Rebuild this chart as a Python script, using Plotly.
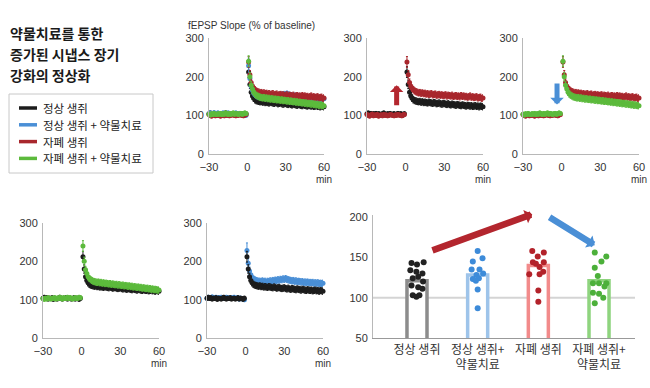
import plotly.graph_objects as go

W, H = 650, 388

# ---------------- data ----------------
minutes_pre = list(range(-30, 0))
minutes_post = list(range(1, 61))

black_pre = [104, 106, 103, 105, 102, 104, 103, 105, 101, 104, 103, 102, 104, 106, 103,
             102, 104, 103, 105, 102, 103, 104, 102, 103, 105, 102, 104, 103, 101, 104]
black_post = [212, 180, 160, 150, 144, 140, 138, 137, 136, 135, 136, 134, 135, 133, 134,
              133, 132, 134, 133, 132, 131, 133, 132, 130, 131, 132, 130, 129, 130, 131,
              129, 128, 130, 128, 127, 129, 128, 127, 126, 128, 127, 126, 125, 127, 126,
              125, 124, 126, 125, 124, 125, 123, 124, 125, 123, 124, 122, 124, 123, 122]

blue_pre = [104, 106, 105, 103, 107, 104, 105, 106, 103, 105, 104, 106, 105, 103, 104,
            106, 105, 104, 103, 105, 104, 106, 103, 104, 105, 102, 104, 103, 101, 100]
blue_post = [228, 195, 175, 165, 158, 154, 152, 150, 149, 148, 148, 147, 149, 147, 148,
             146, 148, 147, 149, 148, 150, 149, 151, 150, 152, 151, 153, 152, 154, 153,
             155, 153, 152, 151, 150, 149, 150, 148, 149, 147, 148, 147, 146, 147, 145,
             146, 145, 146, 144, 145, 144, 145, 143, 144, 143, 144, 142, 143, 142, 143]

red_pre = [102, 100, 98, 101, 103, 99, 101, 100, 102, 98, 100, 101, 99, 102, 100,
           101, 99, 100, 102, 101, 100, 99, 101, 100, 102, 101, 100, 99, 101, 102]
red_post = [238, 205, 185, 175, 170, 166, 163, 161, 160, 158, 159, 157, 158, 156, 157,
            155, 156, 154, 155, 156, 153, 154, 155, 152, 153, 154, 152, 153, 151, 152,
            153, 150, 152, 151, 150, 152, 149, 150, 151, 149, 150, 148, 151, 149, 150,
            148, 149, 147, 148, 150, 147, 148, 146, 147, 148, 145, 146, 147, 144, 145]

green_pre = [103, 101, 104, 102, 105, 103, 102, 104, 103, 105, 102, 104, 103, 106, 104,
             102, 105, 103, 104, 106, 103, 105, 104, 102, 104, 105, 103, 104, 106, 105]
green_post = [240, 200, 178, 168, 160, 155, 152, 150, 148, 147, 146, 145, 146, 144, 145,
              143, 144, 142, 143, 142, 141, 142, 140, 141, 140, 139, 140, 138, 139, 138,
              137, 138, 136, 137, 136, 135, 136, 134, 135, 133, 134, 133, 132, 133, 131,
              132, 130, 131, 130, 129, 130, 128, 129, 127, 128, 126, 127, 126, 125, 125]

err_pre = [5] * 30
err_post = [14, 11, 9, 8] + [8] * 56
err_post_blue = [20, 13, 10, 9] + [8] * 56

categories = ["정상 생쥐", "정상 생쥐+<br>약물치료", "자폐 생쥐", "자폐 생쥐+<br>약물치료"]
bar_means = [121, 128, 140, 121]

black_dots = [143, 141, 144, 134, 132, 130, 126, 124, 120, 115, 113, 111, 103, 101, 103]
black_dx = [-0.09, 0.0, 0.11, -0.11, -0.01, 0.09, 0.02, -0.07, 0.10, -0.09, 0.02, 0.09, -0.07, -0.01, 0.04]
blue_dots = [158, 145, 149, 135, 135, 130, 128, 123, 124, 121, 110, 87]
blue_dx = [0.0, -0.08, 0.08, -0.10, 0.03, 0.09, -0.02, -0.08, 0.02, -0.03, 0.0, 0.0]
red_dots = [202, 158, 156, 151, 144, 142, 138, 144, 129, 129, 132, 109, 95]
red_dx = [-0.16, -0.10, 0.09, -0.01, -0.09, -0.04, 0.02, 0.09, -0.15, 0.02, 0.08, 0.0, 0.0]
green_dots = [156, 151, 145, 137, 127, 118, 118, 118, 114, 106, 105, 100, 93]
green_dx = [-0.07, 0.12, 0.04, -0.07, -0.02, -0.10, 0.0, 0.12, 0.09, -0.10, 0.0, 0.07, -0.07]

legend_labels = ["정상 생쥐", "정상 생쥐 + 약물치료", "자폐 생쥐", "자폐 생쥐 + 약물치료"]
title_lines = ["약물치료를 통한", "증가된 시냅스 장기", "강화의 정상화"]

# ---------------- styles ----------------
C_BLACK = "#1c1c1c"
C_BLUE = "#4a8fd6"
C_RED = "#a8272d"
C_GREEN = "#5cba3c"
BAR_LINE = ["#8c8c8c", "#9ec4ea", "#f28b8b", "#8fd47f"]
DOT_COL = ["#222222", "#3d8bd9", "#b3222a", "#4cb03a"]
FONT = "Liberation Sans, Arial, sans-serif"
KFONT = "Noto Sans CJK KR, sans-serif"
TXT = "#333333"
TICK = 11

series = {
    "black": (black_pre, black_post, C_BLACK, err_post),
    "blue": (blue_pre, blue_post, C_BLUE, err_post_blue),
    "red": (red_pre, red_post, C_RED, err_post),
    "green": (green_pre, green_post, C_GREEN, err_post),
}


def dx(a, b):
    return [a / W, b / W]


def dy(top, bottom):
    return [1 - bottom / H, 1 - top / H]


# panel pixel boxes: (left, right, top, bottom)
panels = {
    1: (209, 324, 38, 154, ["black", "blue", "red", "green"]),
    2: (367, 483, 38, 154, ["black", "red"]),
    3: (523, 639, 38, 154, ["red", "green"]),
    4: (43, 159, 223, 338, ["black", "green"]),
    5: (207, 323, 223, 338, ["blue", "black"]),
}

fig = go.Figure()
layout = dict(width=W, height=H, margin=dict(l=0, r=0, t=0, b=0, autoexpand=False),
              paper_bgcolor="white", plot_bgcolor="white", showlegend=False,
              font=dict(family=FONT, size=12, color=TXT))
annotations = []
shapes = []

for n, (l, r, t, b, names) in panels.items():
    xa = "x" if n == 1 else f"x{n}"
    ya = "y" if n == 1 else f"y{n}"
    for name in names:
        pre, post, col, ep = series[name]
        fig.add_trace(go.Scatter(
            x=minutes_pre + minutes_post, y=pre + post, mode="markers",
            marker=dict(size=5, color=col),
            error_y=dict(type="data", array=err_pre + ep, thickness=1, width=1, color=col),
            xaxis=xa, yaxis=ya, cliponaxis=False))
    key = "" if n == 1 else str(n)
    layout["xaxis" + key] = dict(domain=dx(l, r), anchor=ya, range=[-30, 60], automargin=False,
                                 tickvals=[-30, 0, 30, 60], showgrid=False, zeroline=False,
                                 showline=True, linecolor="#b8b8b8", linewidth=1,
                                 ticks="", ticklabelstandoff=3, tickfont=dict(size=TICK, color=TXT))
    layout["yaxis" + key] = dict(domain=dy(t, b), anchor=xa, range=[0, 300], automargin=False,
                                 tickvals=[0, 100, 200, 300], showgrid=False, zeroline=False,
                                 showline=True, linecolor="#b8b8b8", linewidth=1,
                                 ticks="", ticklabelstandoff=2, tickfont=dict(size=TICK, color=TXT))
    annotations.append(dict(text="min", xref="paper", yref="paper", x=r / W,
                            y=1 - (b + 25) / H, xanchor="center", yanchor="middle",
                            showarrow=False, font=dict(size=10, color=TXT, family=FONT)))

# ---------------- bar panel ----------------
xs = [0, 1, 2, 3]
fig.add_trace(go.Bar(x=xs, y=bar_means, width=0.33,
                     marker=dict(color="white", line=dict(color=BAR_LINE, width=3.5)),
                     xaxis="x6", yaxis="y6"))
for i, (vals, offs) in enumerate([(black_dots, black_dx), (blue_dots, blue_dx),
                                  (red_dots, red_dx), (green_dots, green_dx)]):
    fig.add_trace(go.Scatter(x=[xs[i] + o for o in offs], y=vals, mode="markers",
                             marker=dict(size=6, color=DOT_COL[i]),
                             xaxis="x6", yaxis="y6", cliponaxis=False))

layout["xaxis6"] = dict(domain=dx(373, 635), anchor="y6", range=[-0.725, 3.593], automargin=False,
                        tickvals=xs, ticktext=categories, showgrid=False, zeroline=False,
                        showline=True, linecolor="#999999", linewidth=1.2, ticks="",
                        ticklabelstandoff=0,
                        tickfont=dict(size=12, color=TXT, family=KFONT))
layout["yaxis6"] = dict(domain=dy(215, 338), anchor="x6", range=[50, 202.5], automargin=False,
                        tickvals=[50, 100, 150, 200], showgrid=False, zeroline=False,
                        showline=True, linecolor="#b8b8b8", linewidth=1, ticks="",
                        ticklabelstandoff=2, tickfont=dict(size=TICK, color=TXT))
shapes.append(dict(type="line", xref="x6 domain", yref="y6", x0=0, x1=1, y0=100, y1=100,
                   line=dict(color="#d4d4d4", width=2), layer="below"))

# arrows in the bar panel
annotations.append(dict(xref="x6", yref="y6", axref="x6", ayref="y6", x=1.90, y=203.5,
                        ax=0.23, ay=158, text="", showarrow=True, arrowhead=1, arrowsize=0.36,
                        arrowwidth=6.5, arrowcolor="#b3262e"))
annotations.append(dict(xref="x6", yref="y6", axref="x6", ayref="y6", x=2.93, y=165,
                        ax=2.16, ay=201, text="", showarrow=True, arrowhead=1, arrowsize=0.36,
                        arrowwidth=6.5, arrowcolor="#4a8fd6"))
# arrows in panels 2 and 3
annotations.append(dict(xref="x2", yref="y2", axref="x2", ayref="y2", x=-7, y=178,
                        ax=-7, ay=122, text="", showarrow=True, arrowhead=1, arrowsize=0.45,
                        arrowwidth=5, arrowcolor="#b3262e"))
annotations.append(dict(xref="x3", yref="y3", axref="x3", ayref="y3", x=-3.6, y=128,
                        ax=-3.6, ay=186, text="", showarrow=True, arrowhead=1, arrowsize=0.45,
                        arrowwidth=5, arrowcolor="#4a8fd6"))

# axis caption
annotations.append(dict(text="fEPSP Slope (% of baseline)", xref="paper", yref="paper",
                        x=186 / W, y=1 - 26 / H, xanchor="left", yanchor="middle",
                        showarrow=False, font=dict(size=10, color=TXT, family=FONT)))

# title
for i, line in enumerate(title_lines):
    annotations.append(dict(text=f"<b>{line}</b>", xref="paper", yref="paper",
                            x=8 / W, y=1 - (33 + 21 * i) / H, xanchor="left", yanchor="middle",
                            showarrow=False, font=dict(size=14, color="#1a1a1a", family=KFONT)))

# custom legend
shapes.append(dict(type="rect", xref="paper", yref="paper", x0=9 / W, x1=153 / W,
                   y0=1 - 173 / H, y1=1 - 94 / H, line=dict(color="#c8c8c8", width=1),
                   fillcolor="white"))
for i, (lab, col) in enumerate(zip(legend_labels, [C_BLACK, C_BLUE, C_RED, C_GREEN])):
    yy = 1 - (108 + 16.8 * i) / H
    shapes.append(dict(type="line", xref="paper", yref="paper", x0=19 / W, x1=37 / W,
                       y0=yy, y1=yy, line=dict(color=col, width=3.5)))
    annotations.append(dict(text=lab, xref="paper", yref="paper", x=41 / W, y=yy,
                            xanchor="left", yanchor="middle", showarrow=False,
                            font=dict(size=11.5, color="#222222", family=KFONT)))

layout["annotations"] = annotations
layout["shapes"] = shapes
fig.update_layout(**layout)
fig.write_html("out.html", config={"displayModeBar": False},
               post_script="document.body.style.margin='0';document.body.style.padding='0';")
